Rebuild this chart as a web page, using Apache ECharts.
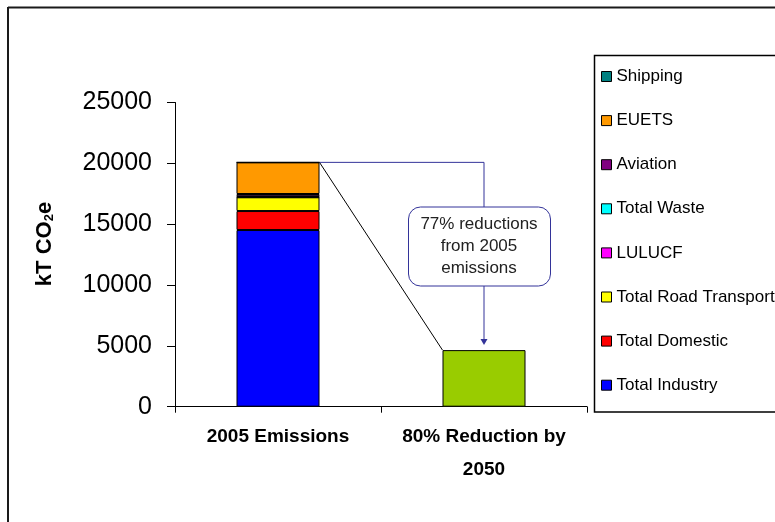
<!DOCTYPE html>
<html>
<head>
<meta charset="utf-8">
<style>
  html, body { margin: 0; padding: 0; background: #fff; }
  #chart { width: 775px; height: 522px; }
</style>
<script src="https://cdn.jsdelivr.net/npm/echarts/dist/echarts.min.js"></script>
</head>
<body>
<div id="chart"></div>
<script>
// categories and values (kT CO2e)
const categories = ['2005 Emissions', '80% Reduction by\n2050']
const totalIndustry = [14520, '-']
const totalDomestic = [1560, '-']
const totalRoadTransport = [1130, '-']
const lulucf = [20, '-']
const totalWaste = [60, '-']
const aviation = [190, '-']
const euets = [2600, '-']
const shipping = [0, '-']
const reduction2050 = ['-', 4650]
const yTicks = [0, 5000, 10000, 15000, 20000, 25000]

const FONT = '"Liberation Sans", Arial, sans-serif'
const BLUE_LINE = '#333399'

const stackSeries = [
  { name: 'Total Industry', data: totalIndustry, color: '#0000FF' },
  { name: 'Total Domestic', data: totalDomestic, color: '#FF0000' },
  { name: 'Total Road Transport', data: totalRoadTransport, color: '#FFFF00' },
  { name: 'LULUCF', data: lulucf, color: '#FF00FF' },
  { name: 'Total Waste', data: totalWaste, color: '#00FFFF' },
  { name: 'Aviation', data: aviation, color: '#800080' },
  { name: 'EUETS', data: euets, color: '#FF9900' },
  { name: 'Shipping', data: shipping, color: '#008080' }
]

const chart = echarts.init(document.getElementById('chart'))

const series = stackSeries.map(function (s) {
  return {
    name: s.name,
    type: 'bar',
    stack: 'total',
    barWidth: 83,
    data: s.data,
    itemStyle: { color: s.color, borderColor: '#000', borderWidth: 1 }
  }
})
series.push({
  name: '2050',
  type: 'bar',
  stack: 'total',
  barWidth: 83,
  data: reduction2050,
  itemStyle: { color: '#99CC00', borderColor: '#000', borderWidth: 1 }
})

chart.setOption({
  animation: false,
  textStyle: { fontFamily: FONT },
  grid: { left: 175, right: 188, top: 102.5, bottom: 115.3, containLabel: false },
  legend: {
    orient: 'vertical',
    left: 601,
    top: 68,
    padding: 0,
    itemWidth: 10,
    itemHeight: 10,
    itemGap: 27.1,
    icon: 'rect',
    data: stackSeries.map(function (s) { return s.name }).reverse(),
    itemStyle: { borderColor: '#000', borderWidth: 1 },
    textStyle: { fontSize: 17, color: '#000', fontFamily: FONT }
  },
  xAxis: {
    type: 'category',
    data: categories,
    axisLine: { lineStyle: { color: '#000', width: 1 } },
    axisTick: { show: true, length: 6, lineStyle: { color: '#000' } },
    axisLabel: {
      interval: 0,
      color: '#000',
      fontSize: 19,
      fontWeight: 'bold',
      lineHeight: 33,
      margin: 14,
      fontFamily: FONT
    }
  },
  yAxis: {
    type: 'value',
    min: yTicks[0],
    max: yTicks[yTicks.length - 1],
    interval: 5000,
    axisLine: { show: true, lineStyle: { color: '#000', width: 1 } },
    axisTick: { show: true, length: 8, lineStyle: { color: '#000' } },
    splitLine: { show: false },
    axisLabel: {
      color: '#000',
      fontSize: 25,
      margin: 23,
      fontFamily: FONT,
      formatter: function (v) { return String(v) }
    }
  },
  series: series
})

// annotation: lines and callout, positioned from the data
const total2005 = stackSeries.reduce(function (acc, s) { return acc + s.data[0] }, 0)
const p1 = chart.convertToPixel({ gridIndex: 0 }, [0, total2005])
const p2 = chart.convertToPixel({ gridIndex: 0 }, [1, reduction2050[1]])
const halfBar = 83 / 2
const boxTop = 207
const boxBottom = 286

chart.setOption({
  graphic: [
    // outer frame
    { type: 'line', shape: { x1: 8, y1: 7.5, x2: 775, y2: 7.5 }, style: { stroke: '#1a1a1a', lineWidth: 2 }, silent: true },
    { type: 'line', shape: { x1: 8, y1: 7, x2: 8, y2: 522 }, style: { stroke: '#1a1a1a', lineWidth: 2 }, silent: true },
    // legend box
    { type: 'rect', shape: { x: 594.5, y: 55.5, width: 230, height: 356.5 }, style: { fill: 'none', stroke: '#000', lineWidth: 1.5 }, silent: true },
    // y axis title
    {
      type: 'text',
      x: 45,
      y: 244,
      rotation: Math.PI / 2,
      style: {
        text: 'kT CO{sub|2}e',
        fontSize: 22,
        fontWeight: 'bold',
        fontFamily: FONT,
        fill: '#000',
        align: 'center',
        verticalAlign: 'middle',
        rich: {
          sub: { fontSize: 13, fontWeight: 'bold', fontFamily: FONT, padding: [8, 0, 0, 0] }
        }
      },
      silent: true
    },
    // diagonal
    { type: 'line', shape: { x1: p1[0] + halfBar, y1: p1[1], x2: p2[0] - halfBar, y2: p2[1] }, style: { stroke: '#000', lineWidth: 1 }, silent: true },
    // connector to callout
    { type: 'polyline', shape: { points: [[p1[0] + halfBar, p1[1]], [p2[0], p1[1]], [p2[0], boxTop]] }, style: { stroke: BLUE_LINE, lineWidth: 1, fill: 'none' }, silent: true },
    // callout box
    { type: 'rect', shape: { x: p2[0] - 75.5, y: boxTop, width: 142, height: boxBottom - boxTop, r: 12 }, style: { fill: '#fff', stroke: BLUE_LINE, lineWidth: 1 }, silent: true },
    {
      type: 'text',
      x: p2[0] - 5,
      y: (boxTop + boxBottom) / 2,
      style: {
        text: '77% reductions\nfrom 2005\nemissions',
        fontSize: 17,
        lineHeight: 22,
        fontFamily: FONT,
        fill: '#222',
        align: 'center',
        verticalAlign: 'middle'
      },
      silent: true
    },
    // arrow to 2050 bar
    { type: 'line', shape: { x1: p2[0], y1: boxBottom, x2: p2[0], y2: p2[1] - 8 }, style: { stroke: BLUE_LINE, lineWidth: 1 }, silent: true },
    { type: 'polygon', shape: { points: [[p2[0] - 3.5, p2[1] - 11], [p2[0] + 3.5, p2[1] - 11], [p2[0], p2[1] - 5]] }, style: { fill: BLUE_LINE }, silent: true }
  ]
})
</script>
</body>
</html>
